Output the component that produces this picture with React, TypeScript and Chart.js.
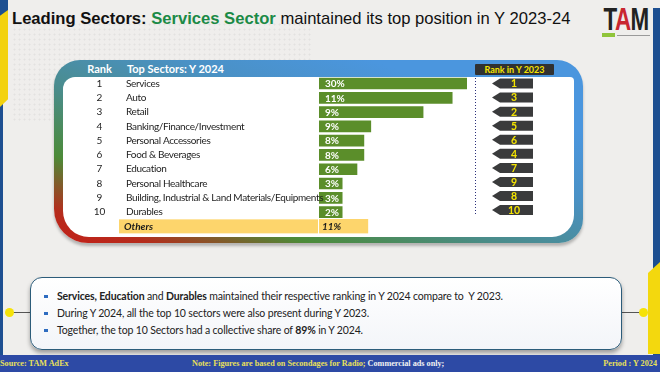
import React, { useEffect, useRef } from 'react';
import { Chart, registerables } from 'chart.js';

Chart.register(...registerables);

// ---------- data ----------
const ranks2024 = [1, 2, 3, 4, 5, 6, 7, 8, 9, 10];
const sectors = [
  'Services',
  'Auto',
  'Retail',
  'Banking/Finance/Investment',
  'Personal Accessories',
  'Food & Beverages',
  'Education',
  'Personal Healthcare',
  'Building, Industrial & Land Materials/Equipments',
  'Durables',
];
const shares = [30, 11, 9, 9, 8, 8, 6, 3, 3, 2];
// bar extents as drawn in the reference (on the 0-30 share axis)
const barExtent = [30, 27, 21.1, 10.5, 9.1, 9.1, 7.7, 4.7, 4.7, 4.7];
const ranks2023 = [1, 3, 2, 5, 6, 4, 7, 9, 8, 10];
const othersLabel = 'Others';
const othersShare = 11;
const othersExtent = 9.9;
const axisMax = 30;

const GREEN = '#5b8e2a';
const YELLOW_BAND = '#fdd56c';
const UI_FONT = 'Lato, "Open Sans", sans-serif';

const tablePlugin = {
  id: 'tableDecor',
  beforeDatasetsDraw(chart: any) {
    const { ctx } = chart;
    const y = chart.scales.y;
    const x = chart.scales.x;
    const oy = y.getPixelForValue(sectors.length);
    ctx.save();
    ctx.fillStyle = YELLOW_BAND;
    ctx.fillRect(119, oy - 7, x.getPixelForValue(0) - 1 - 119, 14);
    ctx.restore();
  },
  afterDatasetsDraw(chart: any) {
    const { ctx } = chart;
    const y = chart.scales.y;
    const x = chart.scales.x;
    const x0 = x.getPixelForValue(0);
    ctx.save();
    ctx.textBaseline = 'middle';
    sectors.forEach((s, i) => {
      const yc = y.getPixelForValue(i);
      ctx.fillStyle = '#1e1e1e';
      ctx.font = `10px ${UI_FONT}`;
      (ctx as any).letterSpacing = '0px';
      ctx.textAlign = 'center';
      ctx.fillText(String(ranks2024[i]), 99.5, yc);
      ctx.textAlign = 'left';
      (ctx as any).letterSpacing = '-0.35px';
      ctx.fillText(s, 126, yc);
      (ctx as any).letterSpacing = '0px';
      ctx.fillStyle = '#ffffff';
      ctx.font = `bold 10px ${UI_FONT}`;
      ctx.fillText(`${shares[i]}%`, x0 + 6, yc + 0.5);
      // rank 2023 badge
      const byc = yc - i * 0.22;
      ctx.fillStyle = '#3a3b3c';
      ctx.beginPath();
      ctx.moveTo(492, byc);
      ctx.lineTo(500, byc - 5);
      ctx.lineTo(533, byc - 5);
      ctx.lineTo(533, byc + 5);
      ctx.lineTo(500, byc + 5);
      ctx.closePath();
      ctx.fill();
      ctx.fillStyle = '#f4e400';
      ctx.font = `bold 10.5px ${UI_FONT}`;
      ctx.textAlign = 'center';
      ctx.fillText(String(ranks2023[i]), 514, byc + 0.5);
    });
    // Others row
    const oy = y.getPixelForValue(sectors.length);
    ctx.fillStyle = '#1a1a1a';
    ctx.textAlign = 'left';
    ctx.font = `italic bold 10px ${UI_FONT}`;
    ctx.fillText(othersLabel, 124, oy + 0.5);
    ctx.fillText(`${othersShare}%`, x0 + 3, oy + 0.5);
    // dotted divider
    ctx.strokeStyle = '#2b2f7a';
    ctx.lineWidth = 1;
    ctx.setLineDash([1, 2]);
    ctx.beginPath();
    ctx.moveTo(475.5, 78);
    ctx.lineTo(475.5, 216);
    ctx.stroke();
    ctx.restore();
  },
};

export default function App() {
  const ref = useRef<HTMLCanvasElement>(null);

  useEffect(() => {
    document.body.style.margin = '0';
    const nulls = sectors.map(() => null);
    const chart = new Chart(ref.current as HTMLCanvasElement, {
      type: 'bar',
      data: {
        labels: [...sectors, othersLabel],
        datasets: [
          {
            data: [...barExtent, null],
            backgroundColor: GREEN,
            barThickness: 11,
            grouped: false,
          } as any,
          {
            data: [...nulls, othersExtent],
            backgroundColor: YELLOW_BAND,
            barThickness: 14,
            grouped: false,
          } as any,
        ],
      },
      options: {
        indexAxis: 'y',
        responsive: false,
        animation: false,
        devicePixelRatio: 1,
        layout: { padding: { left: 319, right: 193, top: 76.4, bottom: 138.5 } },
        scales: {
          x: { type: 'linear', min: 0, max: axisMax, display: false },
          y: { type: 'category', display: false, offset: true },
        },
        plugins: { legend: { display: false }, tooltip: { enabled: false } },
      },
      plugins: [tablePlugin],
    });
    return () => chart.destroy();
  }, []);

  const abs = (o: React.CSSProperties): React.CSSProperties => ({ position: 'absolute', ...o });

  return (
    <div
      style={{
        position: 'absolute',
        left: 0,
        top: 0,
        width: 660,
        height: 372,
        overflow: 'hidden',
        background: '#efeeec',
        fontFamily: UI_FONT,
      }}
    >
      {/* subtle dotted texture */}
      <div
        style={abs({
          left: 12,
          top: 22,
          width: 300,
          height: 100,
          backgroundImage: 'radial-gradient(circle, rgba(0,0,0,0.05) 0.8px, transparent 1.2px)',
          backgroundSize: '5px 5px',
        })}
      />
      {/* left edge decoration */}
      <div style={abs({ left: 0, top: 0, width: 3, height: 355, background: '#1d4f91' })} />
      <div style={abs({ left: 0, top: 0, width: 8, height: 14, background: '#1d4f91' })} />
      <div
        style={abs({
          left: 0,
          top: 10,
          width: 8,
          height: 97,
          background: '#f3d20e',
          clipPath: 'polygon(0 6%, 100% 0, 100% 92%, 0 100%)',
        })}
      />
      {/* right edge decoration */}
      <div style={abs({ left: 653, top: 8, width: 7, height: 347, background: '#1d4f91' })} />
      <div
        style={abs({
          left: 648,
          top: 262,
          width: 12,
          height: 92,
          background: '#f3d80e',
          clipPath: 'polygon(0 12%, 100% 0, 100% 100%, 0 100%)',
        })}
      />

      {/* title */}
      <div
        style={abs({
          left: 12,
          top: 8,
          height: 22,
          lineHeight: '22px',
          fontFamily: '"Liberation Sans", Arial, sans-serif',
          fontSize: 16.6,
          color: '#111',
          whiteSpace: 'nowrap',
        })}
      >
        <b>Leading Sectors: </b>
        <b style={{ color: '#1b8a46' }}>Services Sector</b> maintained its top position in Y 2023-24
      </div>

      {/* TAM logo */}
      <div
        style={abs({
          left: 590,
          top: 4,
          width: 72,
          height: 30,
          lineHeight: '30px',
          textAlign: 'center',
          fontFamily: '"Liberation Sans", Arial, sans-serif',
          fontWeight: 'bold',
          fontSize: 32,
          transform: 'scaleX(0.7)',
          color: '#222',
          letterSpacing: -1,
        })}
      >
        T<span style={{ color: '#c92630' }}>A</span>M
      </div>
      <div style={abs({ left: 602, top: 33, width: 13, height: 4, background: '#8fc43a' })} />
      <div style={abs({ left: 617, top: 34.5, width: 33, height: 1, background: '#9a9a9a' })} />

      {/* table panel frame */}
      <div
        style={abs({
          left: 54,
          top: 60,
          width: 529,
          height: 183,
          borderRadius: '26px 26px 24px 34px',
          background:
            'linear-gradient(to top right, #c41f19 0%, #b52c1c 9%, #4c8b38 24%, #4a8c8a 42%, #4a91c6 62%, #4b96de 80%, #4b96de 100%)',
          boxShadow: '0 3px 3px rgba(0,0,0,0.25)',
        })}
      />
      <div
        style={abs({
          left: 63,
          top: 77,
          width: 511,
          height: 160,
          borderRadius: '12px 4px 22px 26px',
          background: '#ffffff',
        })}
      />
      {/* header texts */}
      <div
        style={abs({
          left: 80,
          top: 61,
          width: 39,
          height: 15,
          lineHeight: '15px',
          textAlign: 'center',
          color: '#fff',
          fontWeight: 'bold',
          fontSize: 11,
        })}
      >
        Rank
      </div>
      <div
        style={abs({
          left: 127,
          top: 61,
          height: 15,
          lineHeight: '15px',
          color: '#fff',
          fontWeight: 'bold',
          fontSize: 11,
          whiteSpace: 'nowrap',
        })}
      >
        Top Sectors: Y 2024
      </div>
      <div
        style={abs({
          left: 475,
          top: 64,
          width: 79,
          height: 11,
          lineHeight: '11px',
          textAlign: 'center',
          background: '#303131',
          color: '#f4e400',
          fontWeight: 'bold',
          fontSize: 9,
          borderRadius: 1,
          whiteSpace: 'nowrap',
        })}
      >
        Rank in Y 2023
      </div>

      {/* bottom summary box */}
      <div style={abs({ left: 12, top: 311.5, width: 19, height: 1, background: '#555' })} />
      <div style={abs({ left: 621, top: 311.5, width: 20, height: 1, background: '#555' })} />
      <div style={abs({ left: 5, top: 308, width: 9, height: 9, borderRadius: '50%', background: '#f5e20a' })} />
      <div style={abs({ left: 639, top: 308, width: 9, height: 9, borderRadius: '50%', background: '#f5e20a' })} />
      <div
        style={abs({
          left: 30,
          top: 277,
          width: 590,
          height: 71,
          border: '1.5px solid #2c5c7a',
          borderRadius: 12,
          background: 'linear-gradient(#ffffff, #f3f5f9)',
          boxShadow: '0 3px 4px rgba(0,0,0,0.35)',
        })}
      />
      {[
        <>
          <b>Services, Education</b> and <b>Durables</b> maintained their respective ranking in Y 2024 compare to&nbsp; Y 2023.
        </>,
        <>During Y 2024, all the top 10 sectors were also present during Y 2023.</>,
        <>
          Together, the top 10 Sectors had a collective share of <b>89%</b> in Y 2024.
        </>,
      ].map((t, i) => (
        <React.Fragment key={i}>
          <div style={abs({ left: 44, top: [294.5, 311.5, 328.5][i], width: 3.5, height: 3.5, background: '#2e6cc0' })} />
          <div
            style={abs({
              left: 57,
              top: [288, 305, 322][i],
              height: 16,
              lineHeight: '16px',
              fontSize: 10.5,
              letterSpacing: -0.15,
              color: '#222',
              whiteSpace: 'nowrap',
            })}
          >
            {t}
          </div>
        </React.Fragment>
      ))}

      {/* footer */}
      <div
        style={abs({
          left: 0,
          top: 355,
          width: 660,
          height: 17,
          background: '#2d4aa5',
          fontFamily: '"Liberation Serif", "Times New Roman", serif',
          fontWeight: 'bold',
          fontSize: 8.2,
          lineHeight: '17px',
          color: '#e9e05a',
          whiteSpace: 'nowrap',
        })}
      >
        <span style={abs({ left: 0, top: 0 })}>Source: TAM AdEx</span>
        <span style={abs({ left: 192, top: 0 })}>
          Note: Figures are based on Secondages for Radio; <span style={{ color: '#f2f2f2' }}>Commercial ads only;</span>
        </span>
        <span style={abs({ right: 3, top: 0 })}>Period : Y 2024</span>
      </div>

      {/* chart canvas (bars + table content) */}
      <canvas ref={ref} width={660} height={372} style={abs({ left: 0, top: 0, width: 660, height: 372 })} />
    </div>
  );
}
